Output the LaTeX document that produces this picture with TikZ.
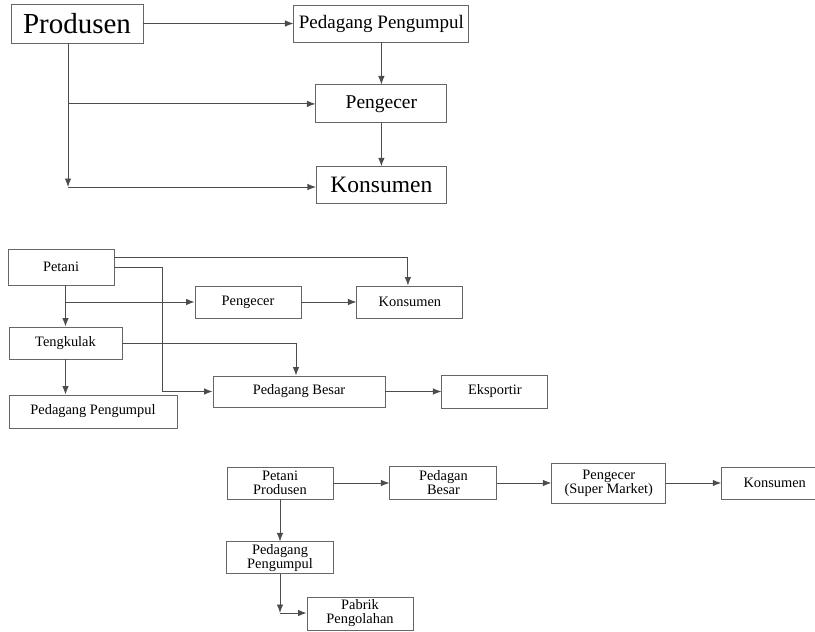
\documentclass[tikz,border=0pt]{standalone}
\usepackage{fontspec}
\setmainfont{Liberation Serif}
\usetikzlibrary{arrows.meta, positioning}
\tikzset{
  box/.style={rectangle, draw=black!60, line width=0.9pt, inner sep=0pt,
              align=center, minimum width=106pt, minimum height=32pt,
              font=\fontsize{14.4}{14}\selectfont},
  boxL/.style={box, font=\fontsize{19}{20}\selectfont},
  arrow/.style={-{Latex[length=8.5pt,width=6.5pt]}, line width=0.9pt, draw=black!70},
}

\begin{document}
\begin{tikzpicture}[x=1pt, y=-1pt]
  \useasboundingbox (0,0) rectangle (815,632);
  \clip (0,0) rectangle (815,632);

  % saluran 1
  \node[box, minimum width=132pt, minimum height=39pt,
        font=\fontsize{29}{30}\selectfont] (prod) at (77,23.5) {Produsen};
  \node[boxL, minimum width=175pt, minimum height=37pt, right=150pt of prod] (pengpul) {Pedagang Pengumpul};
  \node[boxL, minimum width=131pt, minimum height=38pt, font=\fontsize{19.5}{20}\selectfont,
        below=42pt of pengpul] (ecer) {Pengecer};
  \node[boxL, minimum width=130pt, minimum height=37pt, font=\fontsize{23.5}{24}\selectfont,
        below=43pt of ecer] (kons) {Konsumen};
  \coordinate (turn) at (68,187);

  \draw[arrow] (prod)    -- (pengpul);
  \draw[arrow] (pengpul) -- (ecer);
  \draw[arrow] (ecer)    -- (kons);
  \draw[arrow] (prod.south -| turn) -- (turn);
  \draw[arrow] (turn)    -- (turn -| kons.west);
  \draw[arrow] (turn |- ecer.west) -- (ecer.west);

  % saluran 2
  \node[box, minimum height=36pt] (petani) at (61,267) {Petani};
  \node[box, minimum width=113pt] (tengk) at (65.5,343) {Tengkulak};
  \node[box, minimum width=168pt, minimum height=33pt] (pengpul2) at (93,411.5) {Pedagang Pengumpul};
  \node[box] (ecer2) at (248,302) {Pengecer};
  \node[box, right=55pt of ecer2] (kons2) {Konsumen};
  \node[box, minimum width=172pt, minimum height=31pt] (besar) at (299,391.5) {Pedagang Besar};
  \node[box, minimum height=33pt, right=56pt of besar] (ekspor) {Eksportir};

  \draw[arrow] (tengk.north |- petani.south) -- (tengk.north);
  \draw[arrow] (tengk.north |- ecer2.west) -- (ecer2.west);
  \draw[arrow] (tengk.south) -- (tengk.south |- pengpul2.north);
  \draw[arrow] ([yshift=10pt]petani.east) -| ([xshift=-2pt]kons2.north);
  \draw[arrow] (petani.east) -| ([xshift=-50pt]besar.west) -- (besar.west);
  \draw[arrow] (tengk.east) -| ([xshift=-3pt]besar.north);
  \draw[arrow] (ecer2) -- (kons2);
  \draw[arrow] (besar) -- (ekspor);

  % saluran 3
  \node[box] (petprod) at (280,483) {Petani\\Produsen};
  \node[box, minimum width=107pt, minimum height=33pt, right=56pt of petprod] (pbesar) {Pedagan\\Besar};
  \node[box, minimum width=114pt, minimum height=40pt, right=54pt of pbesar] (super) {Pengecer\\(Super Market)};
  \node[box, right=55pt of super] (kons3) {Konsumen};
  \node[box, minimum width=107pt, below=42pt of petprod] (pengpul3) {Pedagang\\Pengumpul};
  \node[box, minimum height=33pt] (pabrik) at (360,613.5) {Pabrik\\Pengolahan};
  \coordinate (drop) at (280,613);

  \draw[arrow] (petprod)  -- (pbesar);
  \draw[arrow] (pbesar)   -- (super);
  \draw[arrow] (super)    -- (kons3);
  \draw[arrow] (petprod)  -- (pengpul3);
  \draw[arrow] (pengpul3) -- (drop);
  \draw[arrow] (drop)     -- (drop -| pabrik.west);

\end{tikzpicture}
\end{document}
